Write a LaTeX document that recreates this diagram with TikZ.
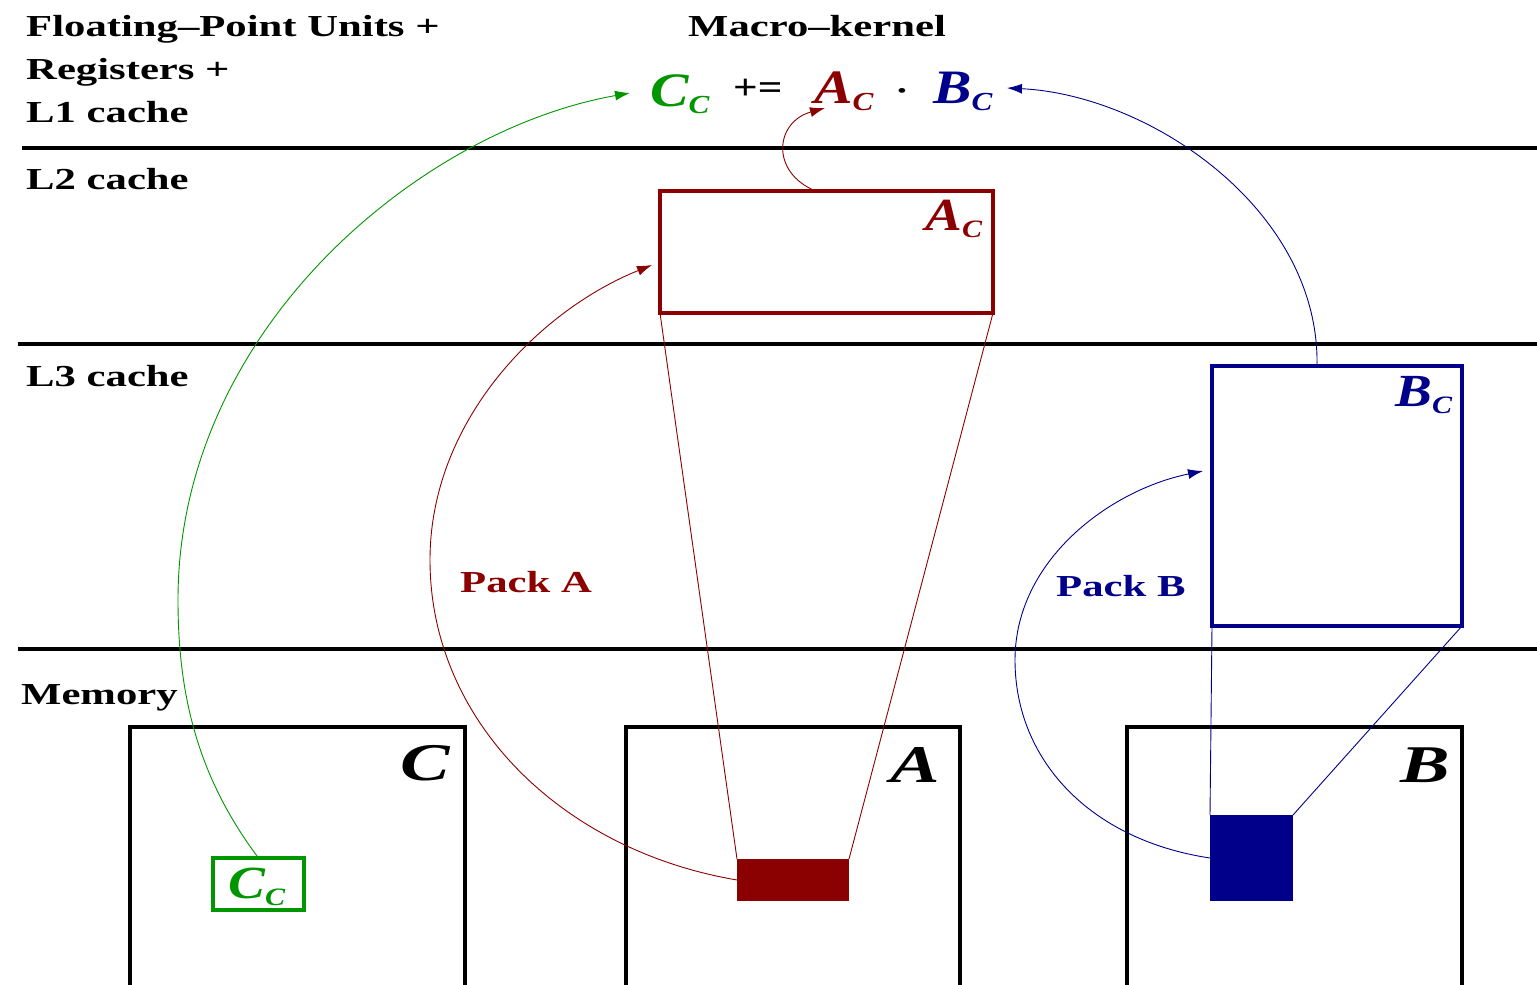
\documentclass[tikz,border=0pt]{standalone}
\usepackage{fontspec}
\setmainfont{Liberation Serif}[FakeStretch=1.4]
\newfontfamily\symfont{Liberation Serif}[FakeStretch=1.2]
\usetikzlibrary{arrows.meta}
\definecolor{dred}{RGB}{139,0,0}
\definecolor{dblue}{RGB}{0,0,139}
\definecolor{dgreen}{RGB}{0,150,0}
\newcommand\fsz[1]{\fontsize{#1}{#1}\selectfont}
\newcommand\symb[4]{{\symfont\fsz{#2}\bfseries\itshape #1}\raisebox{-#4}{\symfont\fsz{#3}\bfseries\itshape C}}
\begin{document}
\begin{tikzpicture}[x=1pt,y=-1pt,
  lbl/.style={anchor=base west,inner sep=0pt,font=\fsz{30.5}\bfseries},
  box/.style={draw,line width=3.5pt,inner sep=0pt,outer sep=0pt,anchor=north west},
  fillbox/.style={inner sep=0pt,outer sep=0pt,anchor=north west},
  rule/.style={line width=3.5pt},
  conn/.style={line width=0.9pt},
  arr/.style={conn,-{Latex[length=15pt,width=10pt]}},
  sym/.style={anchor=base west,inner sep=0pt}]
\useasboundingbox (0,0) rectangle (1537,985);
\clip (0,0) rectangle (1537,985);
% level rules
\draw[rule] (22,148) -- (1537,148);
\draw[rule] (18,344) -- (1537,344);
\draw[rule] (18,649) -- (1537,649);
% level labels
\node[lbl] (fpu1) at (26,36) {Floating--Point Units +};
\node[lbl] (fpu2) at (26,79) {Registers +};
\node[lbl] (fpu3) at (26,122) {L1 cache};
\node[lbl] (mk) at (688,36) {Macro--kernel};
\node[lbl] (l2) at (26,189) {L2 cache};
\node[lbl] (l3) at (26,386) {L3 cache};
\node[lbl] (mem) at (21,704) {Memory};
% equation
\node[sym,text=dgreen] (eqC) at (650,106) {\symb{C}{48}{26}{7pt}};
\node[sym] (eqpe) at (733,99) {\symfont\fsz{36}\bfseries +=};
\node[sym,text=dred] (eqA) at (814,103) {\symb{A}{48}{26}{7pt}};
\node[sym] (eqdot) at (897,97) {\fsz{20}\textbullet};
\node[sym,text=dblue] (eqB) at (933,103) {\symb{B}{48}{26}{7pt}};
\coordinate (cEnd) at (630,93);
\coordinate (aEnd) at (825,108);
\coordinate (bEnd) at (1007,88);
% memory boxes
\node[box,minimum width=335pt,minimum height=300pt] (Cm) at (130,727) {};
\node[box,minimum width=334pt,minimum height=300pt] (Am) at (626,727) {};
\node[box,minimum width=335pt,minimum height=300pt] (Bm) at (1127,727) {};
\node[sym] (Clbl) at (400,780) {\fsz{53}\bfseries\itshape C};
\node[sym] (Albl) at (890,782) {\fsz{53}\bfseries\itshape A};
\node[sym] (Blbl) at (1400,782) {\fsz{53}\bfseries\itshape B};
% packed blocks
\node[box,draw=dred,minimum width=333pt,minimum height=122pt] (Acb) at (660,191) {};
\node[sym,text=dred] (Acl) at (925,230) {\symb{A}{46}{25}{7pt}};
\node[box,draw=dblue,minimum width=250pt,minimum height=260pt] (Bcb) at (1212,366) {};
\node[sym,text=dblue] (Bcl) at (1395,406) {\symb{B}{46}{25}{7pt}};
\coordinate (paEnd) at (652,265);
\coordinate (pbEnd) at (1203,471);
% sub-blocks in memory
\node[fillbox,fill=dred,minimum width=112pt,minimum height=42pt] (ra) at (737,859) {};
\node[fillbox,fill=dblue,minimum width=83pt,minimum height=86pt] (rb) at (1210,815) {};
\node[box,draw=dgreen,minimum width=91pt,minimum height=52pt] (cg) at (213,858) {};
\node[sym,text=dgreen] (cgl) at (228,898) {\symb{C}{46}{25}{7pt}};
% projection lines
\draw[conn,dred] (ra.north west) -- (Acb.south west);
\draw[conn,dred] (ra.north east) -- (Acb.south east);
\draw[conn,dblue] (rb.north west) -- (Bcb.south west);
\draw[conn,dblue] (rb.north east) -- (Bcb.south east);
% pack labels
\node[lbl,text=dred] (packA) at (460,592) {Pack A};
\node[lbl,text=dblue] (packB) at (1056,596) {Pack B};
% curved arrows
\draw[arr,dgreen] (cg.north) .. controls (200,780) and (178,700) .. (178,600)
  .. controls (178,330) and (420,130) .. (cEnd);
\draw[arr,dred] (ra.west) .. controls (560,850) and (430,720) .. (430,560)
  .. controls (430,420) and (540,310) .. (paEnd);
\draw[arr,dred] ([xshift=-11pt]Acb.north) .. controls (770,172) and (775,122) .. (aEnd);
\draw[arr,dblue] (rb.west) .. controls (1090,840) and (1015,760) .. (1015,660)
  .. controls (1015,560) and (1110,490) .. (pbEnd);
\draw[arr,dblue] ([xshift=-20pt]Bcb.north) .. controls (1320,210) and (1150,95) .. (bEnd);
\end{tikzpicture}
\end{document}
